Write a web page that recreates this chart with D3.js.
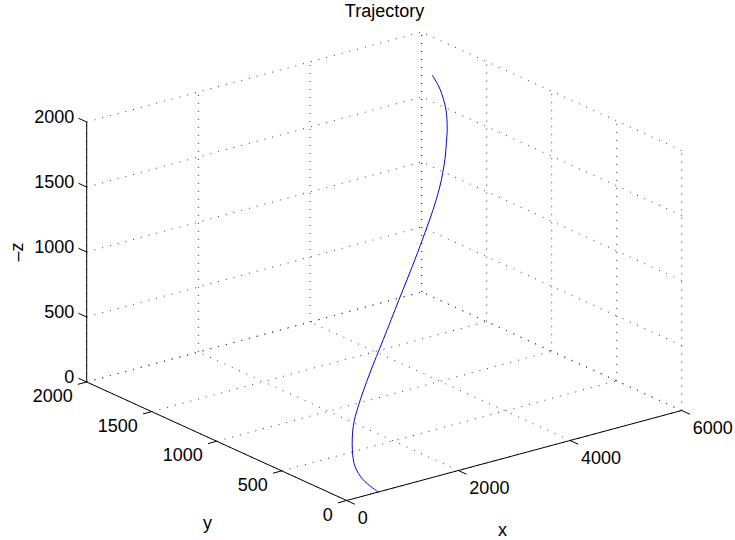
<!DOCTYPE html>
<html>
<head>
<meta charset="utf-8">
<script src="https://cdn.jsdelivr.net/npm/d3@7"></script>
<style>
body { margin: 0; background: #fff; }
text { font-family: "Liberation Sans", Arial, sans-serif; fill: #000; }
</style>
</head>
<body>
<div id="chart"></div>
<script>
// axis ticks
const xTicks = [0, 2000, 4000, 6000];
const yTicks = [0, 500, 1000, 1500, 2000];
const zTicks = [0, 500, 1000, 1500, 2000];

// trajectory samples
const trajX = [566, 697, 913, 1084, 1319, 1527, 1885, 2248, 2680, 3118, 3406, 3656, 3901, 4176, 4379, 4480, 4682, 4893, 5055];
const trajY = [0, 172, 328, 422, 516, 567, 631, 684, 748, 814, 861, 905, 958, 1038, 1112, 1151, 1248, 1384, 1513];
const trajZ = [0, 0, 7, 73, 183, 290, 476, 667, 896, 1123, 1274, 1405, 1532, 1669, 1767, 1815, 1901, 1969, 2000];

const width = 735, height = 540;
const svg = d3.select("#chart").append("svg")
    .attr("width", width)
    .attr("height", height);

// normalised data scales
const xs = d3.scaleLinear().domain([0, 6000]).range([0, 1]);
const ys = d3.scaleLinear().domain([0, 2000]).range([0, 1]);
const zs = d3.scaleLinear().domain([0, 2000]).range([0, 1]);

// projected box edges (screen vectors for full axis lengths)
const origin = [346.7, 500.5];
const ex = [335, -90], ey = [-260, -118.5], ez = [0, -260];

function proj(x, y, z) {
    const a = xs(x), b = ys(y), c = zs(z);
    return [origin[0] + a * ex[0] + b * ey[0] + c * ez[0],
            origin[1] + a * ex[1] + b * ey[1] + c * ez[1]];
}

const line = d3.line();

// grid lines on floor and back walls
const grid = [];
xTicks.forEach(x => {
    grid.push([proj(x, 0, 0), proj(x, 2000, 0)]);
    grid.push([proj(x, 2000, 0), proj(x, 2000, 2000)]);
});
yTicks.forEach(y => {
    grid.push([proj(0, y, 0), proj(6000, y, 0)]);
    grid.push([proj(6000, y, 0), proj(6000, y, 2000)]);
});
zTicks.forEach(z => {
    grid.push([proj(0, 2000, z), proj(6000, 2000, z)]);
    grid.push([proj(6000, 0, z), proj(6000, 2000, z)]);
});

svg.append("g").selectAll("path")
    .data(grid)
    .enter().append("path")
    .attr("d", d => line(d))
    .attr("fill", "none")
    .attr("stroke", "#333")
    .attr("stroke-width", 1)
    .attr("stroke-dasharray", "1,7");

// axis lines
const axes = [
    [proj(0, 0, 0), proj(6000, 0, 0)],
    [proj(0, 0, 0), proj(0, 2000, 0)],
    [proj(0, 2000, 0), proj(0, 2000, 2000)]
];
svg.append("g").selectAll("path")
    .data(axes)
    .enter().append("path")
    .attr("d", d => line(d))
    .attr("fill", "none")
    .attr("stroke", "#000")
    .attr("stroke-width", 1);

// tick marks
const tLen = 9;
const dirX = [0.910, 0.415], dirY = [-0.966, 0.259], dirZ = [-0.910, -0.415];
const tickG = svg.append("g").attr("stroke", "#000").attr("stroke-width", 1);
const fs = 18;

xTicks.forEach(v => {
    const p = proj(v, 0, 0);
    tickG.append("line").attr("x1", p[0]).attr("y1", p[1])
        .attr("x2", p[0] + dirX[0] * tLen).attr("y2", p[1] + dirX[1] * tLen);
    svg.append("text").attr("x", p[0] + 11).attr("y", p[1] + 17)
        .attr("dominant-baseline", "central")
        .style("font-size", fs + "px").text(v);
});
yTicks.forEach(v => {
    const p = proj(0, v, 0);
    tickG.append("line").attr("x1", p[0]).attr("y1", p[1])
        .attr("x2", p[0] + dirY[0] * tLen).attr("y2", p[1] + dirY[1] * tLen);
    svg.append("text").attr("x", p[0] - 14).attr("y", p[1] + 14)
        .attr("text-anchor", "end").attr("dominant-baseline", "central")
        .style("font-size", fs + "px").text(v);
});
zTicks.forEach(v => {
    const p = proj(0, 2000, v);
    tickG.append("line").attr("x1", p[0]).attr("y1", p[1])
        .attr("x2", p[0] + dirZ[0] * tLen).attr("y2", p[1] + dirZ[1] * tLen);
    svg.append("text").attr("x", p[0] - 12.5).attr("y", p[1] - 5)
        .attr("text-anchor", "end").attr("dominant-baseline", "central")
        .style("font-size", fs + "px").text(v);
});

// axis labels and title
svg.append("text").attr("x", 502.5).attr("y", 530)
    .attr("text-anchor", "middle").attr("dominant-baseline", "central")
    .style("font-size", fs + "px").text("x");
svg.append("text").attr("x", 207.5).attr("y", 523)
    .attr("text-anchor", "middle").attr("dominant-baseline", "central")
    .style("font-size", fs + "px").text("y");
svg.append("text")
    .attr("transform", "translate(16.5,252) rotate(-90)")
    .attr("text-anchor", "middle").attr("dominant-baseline", "central")
    .style("font-size", fs + "px").text("\u2013z");
svg.append("text").attr("x", 384.5).attr("y", 17.3)
    .attr("text-anchor", "middle")
    .style("font-size", fs + "px").text("Trajectory");

// trajectory curve
const pts = trajX.map((x, i) => proj(x, trajY[i], trajZ[i]));
svg.append("path")
    .attr("d", d3.line().curve(d3.curveCatmullRom)(pts))
    .attr("fill", "none")
    .attr("stroke", "#0000ff")
    .attr("stroke-width", 1);
</script>
</body>
</html>
